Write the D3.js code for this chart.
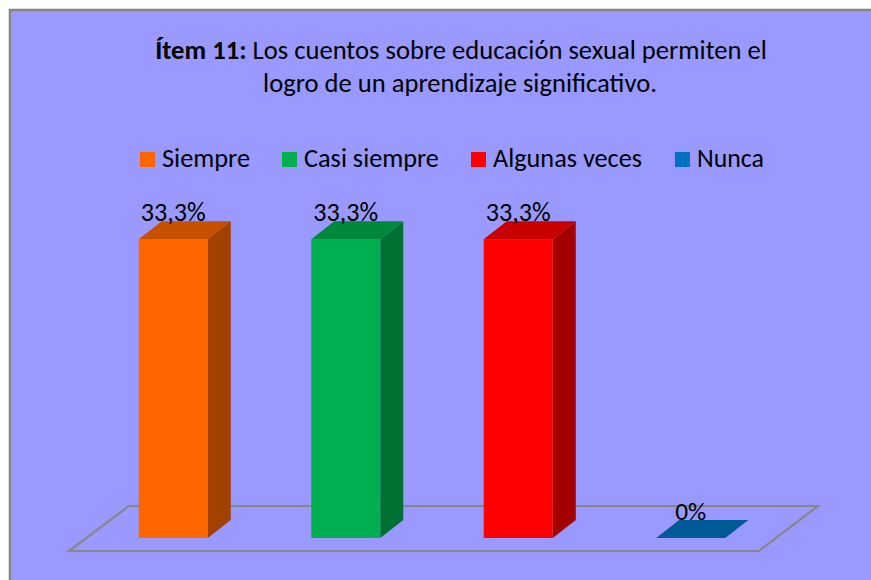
<!DOCTYPE html>
<html>
<head>
<meta charset="utf-8">
<script src="https://cdn.jsdelivr.net/npm/d3@7"></script>
<style>
  html, body { margin: 0; padding: 0; background: #ffffff; }
  svg { display: block; }
  text { font-family: Carlito, Lato, "Liberation Sans", sans-serif; fill: #000; }
</style>
</head>
<body>
<svg id="chart" width="871" height="580"></svg>
<script>
// ---- data ----
const categories = ["Siempre", "Casi siempre", "Algunas veces", "Nunca"];
const values = [33.3, 33.3, 33.3, 0];
const valueLabels = ["33,3%", "33,3%", "33,3%", "0%"];
const frontColors = ["#FF6600", "#00B050", "#FF0000", "#0070C0"];
const topColors = ["#C55000", "#00893D", "#C80000", "#005A96"];
const sideColors = ["#A34200", "#007033", "#A30000", "#004A7E"];
const titleBold = "Ítem 11:";
const titleRest = " Los cuentos sobre educación sexual permiten el";
const titleLine2 = "logro de un aprendizaje significativo.";

const svg = d3.select("#chart");

// background + border
svg.append("rect").attr("x", 10).attr("y", 10).attr("width", 880).attr("height", 600)
  .attr("fill", "#9999FF").attr("stroke", "#878787").attr("stroke-width", 2.6);

// fit helper: scale font-size so rendered width matches target
function fit(sel, target) {
  const fs = parseFloat(sel.attr("font-size"));
  const w = sel.node().getComputedTextLength();
  sel.attr("font-size", (fs * target / w).toFixed(2));
}

// title
const t1 = svg.append("text").attr("x", 461).attr("y", 59).attr("text-anchor", "middle").attr("font-size", 20);
t1.append("tspan").attr("font-weight", "bold").text(titleBold);
t1.append("tspan").text(titleRest);
fit(t1, 612);
const t2 = svg.append("text").attr("x", 460).attr("y", 92).attr("text-anchor", "middle").attr("font-size", 20).text(titleLine2);
fit(t2, 394);

// legend
const legendX = [140, 282, 471, 675];
const legendW = [88, 135, 149, 67];
categories.forEach((c, i) => {
  svg.append("rect").attr("x", legendX[i]).attr("y", 152).attr("width", 15).attr("height", 15).attr("fill", frontColors[i]);
  const lt = svg.append("text").attr("x", legendX[i] + 22).attr("y", 166.5).attr("font-size", 21).text(c);
  fit(lt, legendW[i]);
});

// 3D geometry
const depthX = 23, depthY = -18;
const floorFront = 551, floorBack = 506;
const floor = [[69, floorFront], [759, floorFront], [818, floorBack], [129, floorBack]];

const x = d3.scaleBand().domain(categories).range([87, 777]).paddingInner(0.6).paddingOuter(0.3);
const y = d3.scaleLinear().domain([0, 35]).range([538, 224]);

svg.append("polygon").attr("points", floor.map(p => p.join(",")).join(" "))
  .attr("fill", "none").attr("stroke", "#878787").attr("stroke-width", 2.2);

const bw = x.bandwidth();
categories.forEach((c, i) => {
  const x0 = x(c), x1 = x0 + bw;
  const yb = y(0), yt = y(values[i]);
  const g = svg.append("g");
  if (values[i] > 0) {
    // side
    g.append("polygon").attr("points", [[x1, yb], [x1 + depthX, yb + depthY], [x1 + depthX, yt + depthY], [x1, yt]].map(p => p.join(",")).join(" "))
      .attr("fill", sideColors[i]);
    // front
    g.append("rect").attr("x", x0).attr("y", yt).attr("width", bw).attr("height", yb - yt).attr("fill", frontColors[i]);
  }
  // top
  g.append("polygon").attr("points", [[x0, yt], [x1, yt], [x1 + depthX, yt + depthY], [x0 + depthX, yt + depthY]].map(p => p.join(",")).join(" "))
    .attr("fill", topColors[i]);
  // label
  const lb = svg.append("text").attr("x", x0 + bw / 2).attr("y", yt - 18.5).attr("text-anchor", "middle")
    .attr("font-size", 22).text(valueLabels[i]);
  fit(lb, values[i] > 0 ? 65 : 31);
});
</script>
</body>
</html>
